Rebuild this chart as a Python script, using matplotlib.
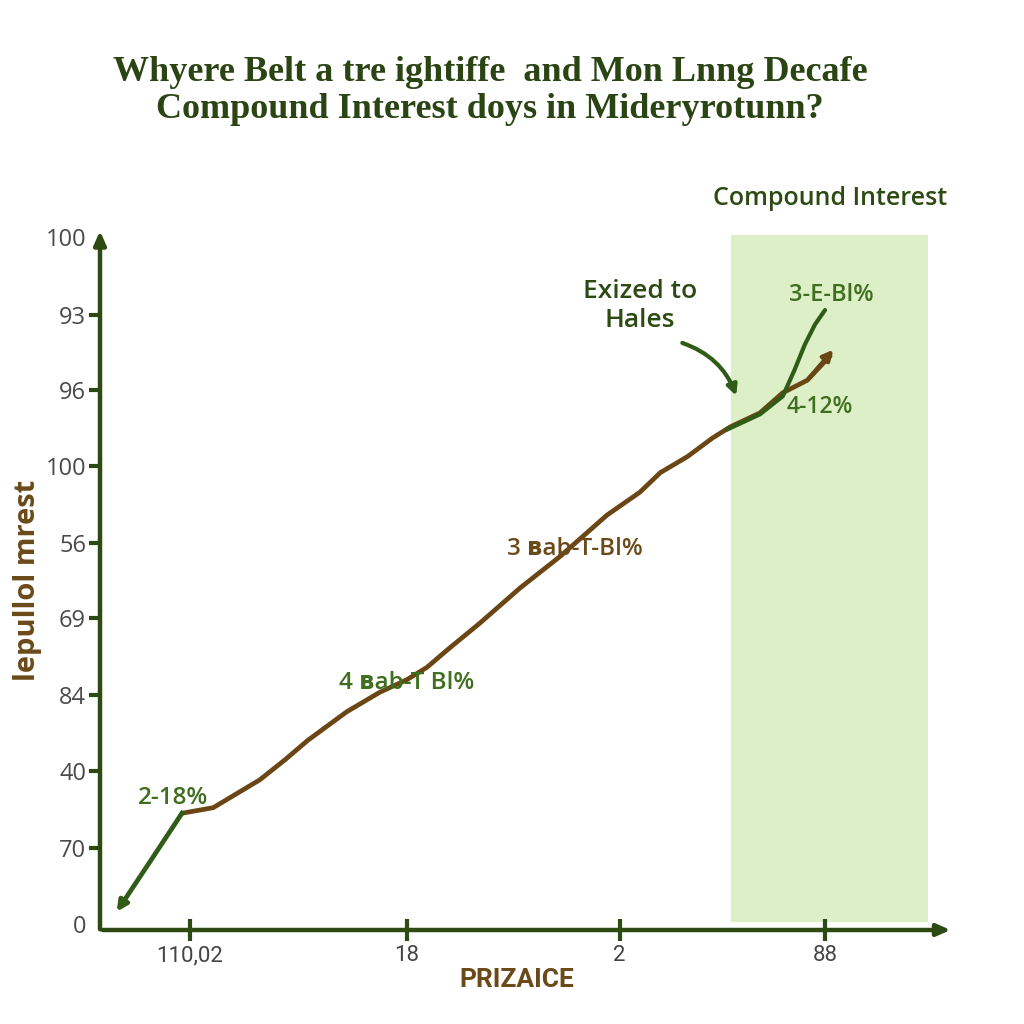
import numpy as np
import matplotlib
matplotlib.use("Agg")
import matplotlib.pyplot as plt

# ---- data (axis units: 0..100 on both axes) ----
brown_x = [9.7, 13.4, 18.9, 21.9, 24.6, 29.2, 33.1, 36.3, 38.7, 41.1, 45.0, 49.7,
           54.4, 60.0, 63.9, 66.3, 69.5, 72.5, 74.6, 78.1, 80.8, 83.7, 86.4]
brown_y = [16.8, 17.6, 21.6, 24.5, 27.3, 31.4, 34.2, 36.0, 37.8, 40.3, 44.2, 49.2,
           53.7, 59.7, 63.0, 65.8, 68.1, 70.8, 72.4, 74.4, 77.3, 79.1, 82.6]

green_low_x = [9.7, 5.9, 1.8]
green_low_y = [16.8, 9.8, 2.3]

green_up_x = [74.2, 78.1, 80.8, 82.2, 83.4, 84.6, 85.8]
green_up_y = [72.0, 74.2, 76.8, 80.6, 84.2, 87.1, 89.2]

band_x = (74.7, 98.0)
band_y = (1.2, 100.3)

xtick_pos = [10.65, 36.3, 61.5, 85.8]
xtick_labels = ["110,02", "18", "2", "88"]
ytick_pos = [0.9, 11.8, 22.9, 33.8, 44.9, 55.7, 66.8, 77.7, 88.5, 99.7]
ytick_labels = ["0", "70", "40", "84", "69", "56", "100", "96", "93", "100"]

title = "Whyere Belt a tre ightiffe  and Mon Lnng Decafe\nCompound Interest doys in Mideryrotunn?"

AXIS = "#2c4a12"
BROWN = "#6a4614"
GREEN = "#2f5c16"
LGREEN = "#3f6e1e"
TXT_BROWN = "#6b4a1a"

plt.rcParams['font.family'] = ['Open Sans', 'DejaVu Sans']

fig = plt.figure(figsize=(10.24, 10.24), dpi=100)
fig.patch.set_facecolor("white")
ax = fig.add_axes([100 / 1024, 94 / 1024, 845 / 1024, 695 / 1024])
ax.set_xlim(0, 100)
ax.set_ylim(0, 100)
ax.set_facecolor("none")
for s in ax.spines.values():
    s.set_visible(False)

# shaded band
ax.fill_between(band_x, band_y[0], band_y[1], color="#dcefc6", zorder=0, lw=0)

# axes with arrowheads
ax.annotate("", xy=(101, 0), xytext=(0, 0),
            arrowprops=dict(arrowstyle="-|>,head_width=0.35,head_length=0.8",
                            color=AXIS, lw=3.2), annotation_clip=False)
ax.annotate("", xy=(0, 101), xytext=(0, -0.3),
            arrowprops=dict(arrowstyle="-|>,head_width=0.35,head_length=0.8",
                            color=AXIS, lw=3.2), annotation_clip=False)

# ticks
ax.set_xticks(xtick_pos)
ax.set_xticklabels(xtick_labels, fontsize=16, color="#444444",
                   family=['Roboto', 'DejaVu Sans'])
ax.tick_params(axis="x", direction="inout", length=16, width=3, color=AXIS, pad=3)
ax.set_yticks(ytick_pos)
ax.set_yticklabels(ytick_labels, fontsize=17, color="#4a4a4a")
ax.tick_params(axis="y", direction="out", length=8, width=3, color=AXIS, pad=2)
ax.yaxis.get_major_ticks()[0].tick1line.set_visible(False)
ax.yaxis.get_major_ticks()[-1].tick1line.set_visible(False)

# lines
ax.plot(brown_x, brown_y, color=BROWN, lw=3.4, solid_capstyle="round", zorder=3)
ax.annotate("", xy=(brown_x[-1] + 0.6, brown_y[-1] + 1.2), xytext=(brown_x[-2], brown_y[-2]),
            arrowprops=dict(arrowstyle="-|>,head_width=0.3,head_length=0.6", color=BROWN, lw=3), zorder=3)
ax.plot(green_low_x[:-1], green_low_y[:-1], color=GREEN, lw=3.4, zorder=3)
ax.annotate("", xy=(green_low_x[-1], green_low_y[-1]), xytext=(green_low_x[-2], green_low_y[-2]),
            arrowprops=dict(arrowstyle="-|>,head_width=0.3,head_length=0.6", color=GREEN, lw=3.4), zorder=3)
ax.plot(green_up_x, green_up_y, color=GREEN, lw=3.0, solid_capstyle="round", zorder=4)

# curved callout arrow
ax.annotate("", xy=(75.4, 76.5), xytext=(68.6, 84.6),
            arrowprops=dict(arrowstyle="-|>,head_width=0.3,head_length=0.6", color=GREEN, lw=3,
                            connectionstyle="arc3,rad=-0.25"), zorder=5)

# text labels
ax.text(63.9, 89.8, "Exized to\nHales", ha="center", va="center", fontsize=19,
        color=AXIS, fontweight="semibold", linespacing=1.2)
ax.text(86.6, 91.3, "3-E-Bl%", ha="center", va="center", fontsize=17, color=LGREEN, fontweight="semibold")
ax.text(85.2, 75.3, "4-12%", ha="center", va="center", fontsize=16.5, color=LGREEN, fontweight="semibold")
ax.text(56.2, 54.8, "3 ʙab-T-Bl%", ha="center", va="center", fontsize=17.5, color=TXT_BROWN, fontweight="semibold")
ax.text(36.3, 35.5, "4 ʙab-T Bl%", ha="center", va="center", fontsize=17.5, color=LGREEN, fontweight="semibold")
ax.text(8.6, 19.0, "2-18%", ha="center", va="center", fontsize=17.5, color=LGREEN, fontweight="semibold")
ax.text(86.4, 105.2, "Compound Interest", ha="center", va="center", fontsize=18,
        color=AXIS, fontweight="semibold", clip_on=False)

# axis titles
fig.text(28 / 1024, 1 - 580 / 1024, "lepullol mrest", rotation=90, ha="center", va="center",
         fontsize=21, color=TXT_BROWN, fontweight="bold")
fig.text(517 / 1024, 1 - 980 / 1024, "PRIZAICE", ha="center", va="center",
         fontsize=19, color=TXT_BROWN, fontweight="bold", family=['Roboto', 'DejaVu Sans'])

fig.text(490 / 1024, 1 - 91 / 1024, title, ha="center", va="center", fontsize=26,
         color="#2b4414", fontweight="bold", family=['Liberation Serif', 'DejaVu Serif'],
         linespacing=1.15)

fig.savefig("out.png", dpi=100, facecolor="white")
